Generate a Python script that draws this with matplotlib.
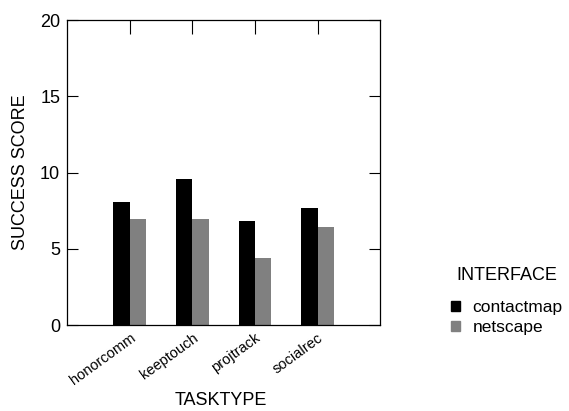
import numpy as np
import matplotlib
matplotlib.use('Agg')
import matplotlib.pyplot as plt
from matplotlib.patches import Patch

plt.rcParams['font.family'] = ['Liberation Sans', 'DejaVu Sans']

tasks = ['honorcomm', 'keeptouch', 'projtrack', 'socialrec']
interfaces = ['contactmap', 'netscape']
contactmap = [8.05, 9.57, 6.8, 7.65]
netscape = [6.97, 6.93, 4.37, 6.45]
colors = ['#000000', '#808080']

fig = plt.figure(figsize=(5.69, 4.11), dpi=100)
ax = fig.add_axes([0.118, 0.209, 0.550, 0.742])

x = np.arange(1, len(tasks) + 1)
w = 0.26
ax.bar(x - w / 2, contactmap, w, color=colors[0])
ax.bar(x + w / 2, netscape, w, color=colors[1])

ax.set_xlim(0, 5)
ax.set_ylim(0, 20)
ax.set_yticks([0, 5, 10, 15, 20])
ax.set_xticks(x)
ax.set_xticklabels(tasks, rotation=36, ha='right', rotation_mode='anchor', fontsize=10.5)
ax.tick_params(axis='y', direction='in', length=8, right=True, labelsize=13, pad=5)
ax.tick_params(axis='x', direction='in', length=10, top=True, bottom=False, pad=4)
for s in ax.spines.values():
    s.set_linewidth(0.9)

ax.set_ylabel('SUCCESS SCORE', fontsize=13, labelpad=8)
ax.set_xlabel('TASKTYPE', fontsize=13, va='center')
ax.xaxis.set_label_coords(0.49, -0.246)

handles = [Patch(color=c) for c in colors]
leg = fig.legend(handles, interfaces, title='INTERFACE', loc='center left',
                 bbox_to_anchor=(0.765, 0.268), frameon=False, fontsize=12.5,
                 title_fontsize=13, handlelength=0.55, handleheight=0.5,
                 handletextpad=0.7, labelspacing=0.28)
leg._legend_box.sep = 12

fig.savefig('out.png', dpi=100)
